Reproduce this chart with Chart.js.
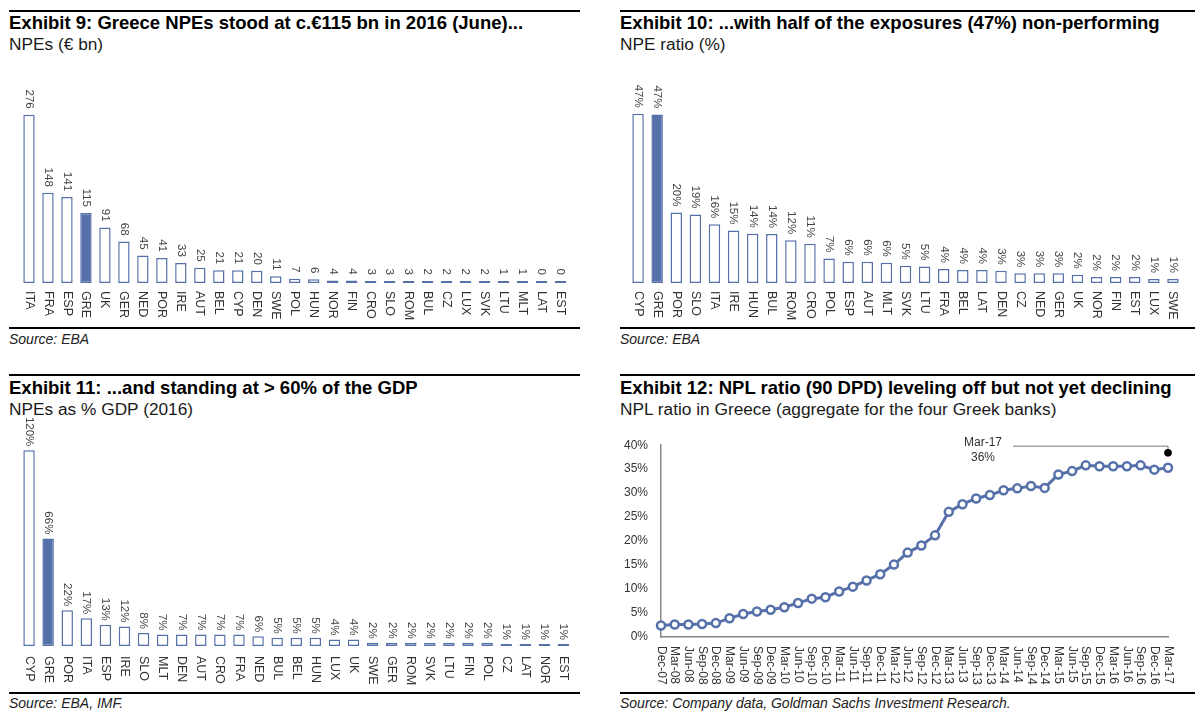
<!DOCTYPE html>
<html>
<head>
<meta charset="utf-8">
<script src="https://cdn.jsdelivr.net/npm/chart.js@4.4.1/dist/chart.umd.min.js"></script>
<style>
  body { margin: 0; background: #fff; font-family: "Liberation Sans", Arial, sans-serif; }
  #page { position: relative; width: 1200px; height: 720px; overflow: hidden; }
  .rule { position: absolute; height: 0; border-top: 2.5px solid #000; }
  .rule.thin { border-top-width: 2px; }
  .title { position: absolute; font-size: 18.5px; font-weight: bold; color: #000; white-space: nowrap; }
  .sub { position: absolute; font-size: 17.3px; color: #1a1a1a; white-space: nowrap; }
  .src { position: absolute; font-size: 14px; font-style: italic; color: #222; white-space: nowrap; }
  canvas { position: absolute; }
</style>
</head>
<body>
<div id="page">
  <div class="rule" style="left:9px; top:10px; width:571px;"></div>
  <div class="title" style="left:9px; top:12px;">Exhibit 9: Greece NPEs stood at c.€115 bn in 2016 (June)...</div>
  <div class="sub" style="left:9px; top:34px;">NPEs (€ bn)</div>
  <canvas id="c9" width="571" height="270" style="left:9px; top:55px;"></canvas>
  <div class="rule thin" style="left:9px; top:327px; width:571px;"></div>
  <div class="src" style="left:9px; top:331px;">Source: EBA</div>

  <div class="rule" style="left:620px; top:10px; width:575px;"></div>
  <div class="title" style="left:620px; top:12px;">Exhibit 10: ...with half of the exposures (47%) non-performing</div>
  <div class="sub" style="left:620px; top:34px;">NPE ratio (%)</div>
  <canvas id="c10" width="575" height="270" style="left:620px; top:55px;"></canvas>
  <div class="rule thin" style="left:620px; top:327px; width:575px;"></div>
  <div class="src" style="left:620px; top:331px;">Source: EBA</div>

  <div class="rule" style="left:9px; top:374px; width:571px;"></div>
  <div class="title" style="left:9px; top:377px;">Exhibit 11: ...and standing at &gt; 60% of the GDP</div>
  <div class="sub" style="left:9px; top:399px;">NPEs as % GDP (2016)</div>
  <canvas id="c11" width="571" height="280" style="left:9px; top:410px;"></canvas>
  <div class="rule thin" style="left:9px; top:692px; width:571px;"></div>
  <div class="src" style="left:9px; top:695px;">Source: EBA, IMF.</div>

  <div class="rule" style="left:620px; top:374px; width:575px;"></div>
  <div class="title" style="left:620px; top:377px;">Exhibit 12: NPL ratio (90 DPD) leveling off but not yet declining</div>
  <div class="sub" style="left:620px; top:399px;">NPL ratio in Greece (aggregate for the four Greek banks)</div>
  <canvas id="c12" width="597" height="265" style="left:600px; top:425px;"></canvas>
  <div class="rule thin" style="left:620px; top:692px; width:575px;"></div>
  <div class="src" style="left:620px; top:695px;">Source: Company data, Goldman Sachs Investment Research.</div>
</div>

<script>
// Exhibit 9 - NPEs (EUR bn)
const npeCountries = ["ITA", "FRA", "ESP", "GRE", "UK", "GER", "NED", "POR", "IRE", "AUT", "BEL", "CYP", "DEN", "SWE", "POL",
  "HUN", "NOR", "FIN", "CRO", "SLO", "ROM", "BUL", "CZ", "LUX", "SVK", "LTU", "MLT", "LAT", "EST"];
const npeValues = [276, 148, 141, 115, 91, 68, 45, 41, 33, 25, 21, 21, 20, 11, 7,
  6, 4, 4, 3, 3, 3, 2, 2, 2, 2, 1, 1, 0.4, 0.3];

// Exhibit 10 - NPE ratio (%)
const ratioCountries = ["CYP", "GRE", "POR", "SLO", "ITA", "IRE", "HUN", "BUL", "ROM", "CRO", "POL", "ESP", "AUT", "MLT", "SVK",
  "LTU", "FRA", "BEL", "LAT", "DEN", "CZ", "NED", "GER", "UK", "NOR", "FIN", "EST", "LUX", "SWE"];
const ratioValues = [47, 46.8, 19.6, 19, 16.3, 14.6, 13.7, 13.6, 11.9, 10.9, 6.8, 5.9, 5.9, 5.6, 4.8,
  4.6, 3.9, 3.6, 3.6, 3.4, 2.7, 2.7, 2.7, 2.3, 1.7, 1.7, 1.7, 1.1, 1.1];

// Exhibit 11 - NPEs as % GDP (2016)
const gdpCountries = ["CYP", "GRE", "POR", "ITA", "ESP", "IRE", "SLO", "MLT", "DEN", "AUT", "CRO", "FRA", "NED", "BUL", "BEL",
  "HUN", "LUX", "UK", "SWE", "GER", "ROM", "SVK", "LTU", "FIN", "POL", "CZ", "LAT", "NOR", "EST"];
const gdpValues = [120, 66, 22, 17, 13, 12, 8, 7, 7, 7, 7, 7, 6, 5, 5,
  5, 4, 4, 2, 2, 2, 2, 2, 2, 2, 1, 1, 1, 1];

// Exhibit 12 - NPL ratio in Greece (%), quarterly
const nplQuarters = ["Dec-07", "Mar-08", "Jun-08", "Sep-08", "Dec-08", "Mar-09", "Jun-09", "Sep-09", "Dec-09", "Mar-10",
  "Jun-10", "Sep-10", "Dec-10", "Mar-11", "Jun-11", "Sep-11", "Dec-11", "Mar-12", "Jun-12", "Sep-12",
  "Dec-12", "Mar-13", "Jun-13", "Sep-13", "Dec-13", "Mar-14", "Jun-14", "Sep-14", "Dec-14", "Mar-15",
  "Jun-15", "Sep-15", "Dec-15", "Mar-16", "Jun-16", "Sep-16", "Dec-16", "Mar-17"];
const nplValues = [2.4, 2.6, 2.6, 2.7, 2.9, 3.9, 4.8, 5.3, 5.7, 6.2,
  7.1, 8.0, 8.3, 9.5, 10.5, 11.8, 13.1, 15.1, 17.6, 19.1,
  21.2, 26.1, 27.7, 28.9, 29.6, 30.6, 31.0, 31.5, 31.1, 33.9,
  34.6, 35.8, 35.6, 35.6, 35.6, 35.8, 34.9, 35.3];
const nplYTicks = [0, 5, 10, 15, 20, 25, 30, 35, 40];

const BLUE = "#5671aa";
const FONT = "'Liberation Sans', Arial, sans-serif";

// draws rotated value labels above the bars and rotated category labels under the baseline
function rotLabels(fmt, gapTop, gapBottom) {
  return {
    id: "rotLabels",
    afterDatasetsDraw(chart) {
      const ctx = chart.ctx;
      const meta = chart.getDatasetMeta(0);
      const base = chart.scales.y.getPixelForValue(0);
      const vals = chart.data.datasets[0].data;
      ctx.save();
      meta.data.forEach((bar, i) => {
        ctx.save();
        ctx.translate(bar.x, bar.y - gapTop);
        ctx.rotate(Math.PI / 2);
        ctx.font = "11.5px " + FONT;
        ctx.fillStyle = "#444";
        ctx.textAlign = "right";
        ctx.textBaseline = "middle";
        ctx.fillText(fmt(vals[i]), 0, 0);
        ctx.restore();

        ctx.save();
        ctx.translate(bar.x, base + gapBottom);
        ctx.rotate(Math.PI / 2);
        ctx.font = "12.5px " + FONT;
        ctx.fillStyle = "#333";
        ctx.textAlign = "left";
        ctx.textBaseline = "middle";
        ctx.fillText(chart.data.labels[i], 0, 0);
        ctx.restore();
      });
      ctx.restore();
    }
  };
}

function barChart(id, labels, values, yMax, padding, fmt, gapTop, gapBottom) {
  return new Chart(document.getElementById(id), {
    type: "bar",
    data: {
      labels: labels,
      datasets: [{
        data: values,
        backgroundColor: labels.map((c) => (c === "GRE" ? BLUE : "#fff")),
        borderColor: BLUE,
        borderWidth: 1.5,
        borderSkipped: false,
        barPercentage: 0.6,
        categoryPercentage: 1.0,
        minBarLength: 2,
      }],
    },
    options: {
      responsive: false,
      animation: false,
      layout: { padding: padding },
      plugins: { legend: { display: false }, tooltip: { enabled: false } },
      scales: {
        x: { display: false },
        y: { display: false, min: 0, max: yMax },
      },
    },
    plugins: [rotLabels(fmt, gapTop, gapBottom)],
  });
}

barChart("c9", npeCountries, npeValues, 374, { left: 10.5, right: 10, top: 0, bottom: 42 },
  (v) => String(Math.round(v)), 6, 8);
barChart("c10", ratioCountries, ratioValues, 63.3, { left: 8.5, right: 12.5, top: 0, bottom: 42 },
  (v) => Math.round(v) + "%", 6, 8);
barChart("c11", gdpCountries, gdpValues, 138.6, { left: 10.5, right: 7, top: 10, bottom: 44 },
  (v) => Math.round(v) + "%", 4, 10);

// Exhibit 12 line chart
const nplNote = {
  id: "nplNote",
  afterDatasetsDraw(chart) {
    const ctx = chart.ctx;
    const x = chart.scales.x, y = chart.scales.y;
    // x-axis labels, reading top to bottom
    ctx.save();
    ctx.font = "12px " + FONT;
    ctx.fillStyle = "#333";
    ctx.textAlign = "left";
    ctx.textBaseline = "middle";
    nplQuarters.forEach((q, i) => {
      ctx.save();
      ctx.translate(x.getPixelForValue(i), chart.chartArea.bottom + 9);
      ctx.rotate(Math.PI / 2);
      ctx.fillText(q, 0, 0);
      ctx.restore();
    });
    // Mar-17 callout
    const last = nplValues.length - 1;
    const dx = x.getPixelForValue(last);
    const dy = y.getPixelForValue(38.4);
    const ly = y.getPixelForValue(39.8);
    ctx.strokeStyle = "#777";
    ctx.lineWidth = 1;
    ctx.beginPath();
    ctx.moveTo(dx - 155, ly);
    ctx.lineTo(dx, ly);
    ctx.lineTo(dx, dy);
    ctx.stroke();
    ctx.fillStyle = "#000";
    ctx.beginPath();
    ctx.arc(dx, dy, 3.8, 0, Math.PI * 2);
    ctx.fill();
    ctx.fillStyle = "#333";
    ctx.font = "12px " + FONT;
    ctx.textAlign = "center";
    ctx.fillText(nplQuarters[last], dx - 185, ly - 3);
    ctx.fillText(Math.round(nplValues[last] + 0.5) + "%", dx - 185, ly + 12);
    ctx.restore();
  }
};

new Chart(document.getElementById("c12"), {
  type: "line",
  data: {
    labels: nplQuarters,
    datasets: [{
      data: nplValues,
      borderColor: BLUE,
      borderWidth: 3,
      tension: 0,
      pointRadius: 4,
      pointBorderWidth: 2.5,
      pointBorderColor: BLUE,
      pointBackgroundColor: "#fff",
      clip: false,
    }],
  },
  options: {
    responsive: false,
    animation: false,
    layout: { padding: { top: 12, right: 29, left: 0, bottom: 0 } },
    plugins: { legend: { display: false }, tooltip: { enabled: false } },
    scales: {
      x: {
        offset: false,
        grid: { display: false },
        border: { display: true, color: "#888", width: 1.5 },
        ticks: { display: false },
        afterFit: (s) => { s.height = 53; },
      },
      y: {
        min: 0,
        max: 40,
        afterBuildTicks: (s) => { s.ticks = nplYTicks.map((v) => ({ value: v })); },
        grid: { display: false, drawTicks: false },
        border: { display: true, color: "#888", width: 1.5 },
        ticks: {
          padding: 13,
          color: "#333",
          font: { family: FONT, size: 12 },
          callback: (v) => v + "%",
        },
        afterFit: (s) => { s.width = 61; },
      },
    },
  },
  plugins: [nplNote],
});
</script>
</body>
</html>
